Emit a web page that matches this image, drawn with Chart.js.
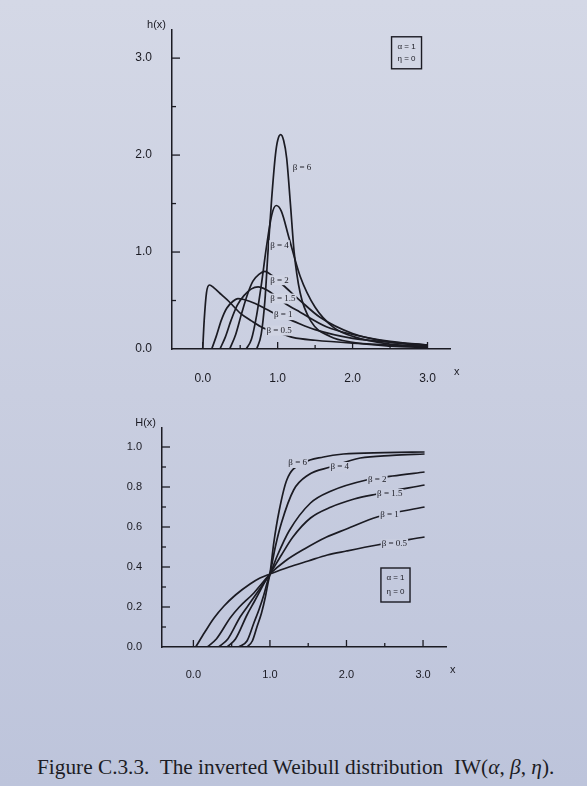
<!DOCTYPE html>
<html lang="en">
<head>
  <meta charset="UTF-8">
  <title>Inverted Weibull distribution</title>
  <script src="https://cdn.jsdelivr.net/npm/chart.js"></script>
  <style>
    html, body {
      margin: 0;
      padding: 0;
    }
    body {
      width: 587px;
      height: 786px;
      position: relative;
      overflow: hidden;
      background: linear-gradient(180deg, #d4d8e6 0%, #c9cee0 50%, #bdc4db 100%);
    }
    .chart-box {
      position: absolute;
      left: 0;
      width: 587px;
    }
    #topBox { top: 0; height: 400px; }
    #bottomBox { top: 400px; height: 300px; }
    .caption {
      position: absolute;
      left: 37px;
      top: 755px;
      font-family: "Liberation Serif", "DejaVu Serif", serif;
      font-size: 21.3px;
      color: #1c1c24;
      white-space: nowrap;
    }
    .caption i { font-style: italic; }
  </style>
</head>
<body>
  <div class="chart-box" id="topBox"><canvas id="hChart" width="587" height="400"></canvas></div>
  <div class="chart-box" id="bottomBox"><canvas id="HChart" width="587" height="300"></canvas></div>
  <div class="caption">Figure C.3.3.&nbsp; The inverted Weibull distribution &nbsp;IW(<i>α</i>, <i>β</i>, <i>η</i>).</div>

  <script>
    // beta values of the six curves
    const betaNames = ['0.5', '1', '1.5', '2', '4', '6'];

    // h(x) curves (top panel)
    const hx05 = [0.0, 0.02, 0.05, 0.09, 0.15, 0.25, 0.35, 0.5, 0.65, 0.8, 1.0, 1.2, 1.5, 2.0, 2.5, 3.0];
    const hy05 = [0, 0.30, 0.58, 0.66, 0.63, 0.56, 0.49, 0.37, 0.29, 0.22, 0.17, 0.12, 0.09, 0.06, 0.04, 0.03];
    const hx1 = [0.12, 0.18, 0.25, 0.32, 0.4, 0.47, 0.55, 0.7, 0.85, 1.0, 1.2, 1.5, 2.0, 2.5, 3.0];
    const hy1 = [0, 0.13, 0.30, 0.42, 0.49, 0.52, 0.51, 0.47, 0.41, 0.35, 0.29, 0.20, 0.11, 0.07, 0.04];
    const hx15 = [0.23, 0.3, 0.38, 0.46, 0.55, 0.65, 0.74, 0.85, 1.0, 1.1, 1.3, 1.65, 2.0, 2.5, 3.0];
    const hy15 = [0, 0.12, 0.30, 0.45, 0.55, 0.62, 0.64, 0.61, 0.53, 0.47, 0.38, 0.23, 0.15, 0.08, 0.04];
    const hx2 = [0.36, 0.44, 0.52, 0.6, 0.67, 0.75, 0.83, 0.92, 1.07, 1.3, 1.56, 2.0, 2.5, 3.0];
    const hy2 = [0, 0.15, 0.37, 0.57, 0.70, 0.77, 0.80, 0.76, 0.66, 0.50, 0.33, 0.16, 0.07, 0.035];
    const hx4 = [0.58, 0.65, 0.72, 0.78, 0.85, 0.92, 0.98, 1.05, 1.15, 1.3, 1.5, 1.75, 2.0, 2.5, 3.0];
    const hy4 = [0, 0.10, 0.35, 0.65, 1.05, 1.38, 1.48, 1.42, 1.15, 0.75, 0.43, 0.22, 0.13, 0.05, 0.02];
    const hx6 = [0.72, 0.78, 0.83, 0.87, 0.92, 0.97, 1.0, 1.04, 1.08, 1.12, 1.17, 1.22, 1.3, 1.45, 1.7, 2.0, 2.5, 3.0];
    const hy6 = [0, 0.15, 0.5, 0.99, 1.55, 2.0, 2.15, 2.21, 2.15, 1.97, 1.5, 1.0, 0.58, 0.28, 0.13, 0.07, 0.03, 0.015];

    // H(x) curves (bottom panel)
    const Hx05 = [0.03, 0.15, 0.27, 0.4, 0.55, 0.74, 0.87, 1.0, 1.25, 1.5, 1.75, 2.0, 2.4, 3.02];
    const Hy05 = [0, 0.075, 0.145, 0.205, 0.26, 0.315, 0.345, 0.365, 0.40, 0.43, 0.46, 0.48, 0.51, 0.55];
    const Hx1 = [0.18, 0.3, 0.48, 0.6, 0.79, 0.9, 1.0, 1.2, 1.45, 1.74, 2.0, 2.4, 3.02];
    const Hy1 = [0, 0.04, 0.145, 0.20, 0.27, 0.32, 0.365, 0.43, 0.49, 0.55, 0.59, 0.65, 0.70];
    const Hx15 = [0.33, 0.45, 0.61, 0.72, 0.83, 0.92, 1.0, 1.15, 1.3, 1.53, 1.8, 2.1, 2.4, 3.02];
    const Hy15 = [0, 0.04, 0.15, 0.21, 0.27, 0.32, 0.365, 0.46, 0.55, 0.645, 0.70, 0.74, 0.765, 0.81];
    const Hx2 = [0.44, 0.55, 0.7, 0.8, 0.87, 0.94, 1.0, 1.1, 1.25, 1.53, 1.8, 2.26, 2.6, 3.02];
    const Hy2 = [0, 0.04, 0.16, 0.23, 0.28, 0.33, 0.365, 0.46, 0.58, 0.72, 0.78, 0.835, 0.855, 0.875];
    const Hx4 = [0.59, 0.7, 0.79, 0.86, 0.92, 0.97, 1.0, 1.07, 1.15, 1.31, 1.5, 1.79, 2.18, 2.6, 3.02];
    const Hy4 = [0, 0.03, 0.12, 0.19, 0.26, 0.33, 0.365, 0.50, 0.62, 0.785, 0.86, 0.90, 0.945, 0.958, 0.965];
    const Hx6 = [0.70, 0.77, 0.83, 0.89, 0.94, 0.98, 1.0, 1.05, 1.12, 1.22, 1.44, 1.7, 1.96, 2.5, 3.02];
    const Hy6 = [0, 0.03, 0.10, 0.17, 0.25, 0.33, 0.365, 0.52, 0.68, 0.835, 0.92, 0.95, 0.965, 0.972, 0.975];

    // where the beta labels sit on each curve (data coords)
    const hLabelX = [0.85, 0.95, 0.9, 0.9, 0.9, 1.2];
    const hLabelY = [0.19, 0.35, 0.52, 0.71, 1.07, 1.87];
    const HLabelX = [2.46, 2.44, 2.4, 2.28, 1.79, 1.24];
    const HLabelY = [0.515, 0.66, 0.765, 0.835, 0.90, 0.92];

    const ink = '#1b1b23';

    function toPoints(xs, ys) {
      return xs.map((x, i) => ({ x: x, y: ys[i] }));
    }

    function makeDatasets(pairs) {
      return pairs.map((p, i) => ({
        label: 'β = ' + betaNames[i],
        data: toPoints(p[0], p[1]),
        borderColor: ink,
        borderWidth: 1.7,
        pointRadius: 0,
        fill: false,
        cubicInterpolationMode: 'monotone'
      }));
    }

    // draws inward tick marks, axis names, beta labels and the parameter box
    const decorPlugin = {
      id: 'decor',
      afterDatasetsDraw(chart, args, opts) {
        const ctx = chart.ctx;
        const xs = chart.scales.x, ys = chart.scales.y;
        const area = chart.chartArea;
        ctx.save();
        ctx.strokeStyle = ink;
        ctx.lineWidth = 1.3;

        // tick marks pointing into the plot
        xs.ticks.forEach(t => {
          const px = xs.getPixelForValue(t.value);
          const len = t.label ? 7 : 4;
          ctx.beginPath();
          ctx.moveTo(px, area.bottom);
          ctx.lineTo(px, area.bottom - len);
          ctx.stroke();
        });
        ys.ticks.forEach(t => {
          if (t.value === 0) return;
          const py = ys.getPixelForValue(t.value);
          const len = t.label ? 8 : 4;
          ctx.beginPath();
          ctx.moveTo(area.left, py);
          ctx.lineTo(area.left + len, py);
          ctx.stroke();
        });

        // beta labels, drawn over the curves
        ctx.font = '9px "Liberation Serif", serif';
        ctx.textBaseline = 'middle';
        ctx.textAlign = 'left';
        opts.labelX.forEach((lx, i) => {
          const px = xs.getPixelForValue(lx);
          const py = ys.getPixelForValue(opts.labelY[i]);
          const txt = 'β = ' + betaNames[i];
          const w = ctx.measureText(txt).width;
          ctx.fillStyle = opts.paper;
          ctx.fillRect(px - 1, py - 5, w + 2, 10);
          ctx.fillStyle = ink;
          ctx.fillText(txt, px, py);
        });

        // parameter box
        const bx0 = xs.getPixelForValue(opts.box[0]);
        const bx1 = xs.getPixelForValue(opts.box[1]);
        const by0 = ys.getPixelForValue(opts.box[2]);
        const by1 = ys.getPixelForValue(opts.box[3]);
        ctx.lineWidth = 1.4;
        ctx.strokeRect(bx0, by0, bx1 - bx0, by1 - by0);
        ctx.fillStyle = ink;
        ctx.font = '8px "Liberation Sans", sans-serif';
        ctx.textAlign = 'center';
        const cx = (bx0 + bx1) / 2;
        ctx.fillText('α = 1', cx, by0 + (by1 - by0) * 0.3);
        ctx.fillText('η = 0', cx, by0 + (by1 - by0) * 0.7);

        // axis names
        ctx.font = '11px "Liberation Sans", sans-serif';
        ctx.textAlign = 'right';
        ctx.textBaseline = 'alphabetic';
        ctx.fillText(opts.yName, area.left - 6, area.top - 2);
        ctx.textAlign = 'left';
        ctx.fillText('x', area.right + 4, area.bottom + 26);
        ctx.restore();
      }
    };

    function axisOptions(cfg) {
      return {
        x: {
          type: 'linear',
          min: -0.41,
          max: 3.3,
          grid: { display: false },
          border: { color: ink, width: 1.5 },
          afterFit: s => { s.height = cfg.xHeight; },
          ticks: {
            stepSize: 0.5,
            includeBounds: false,
            autoSkip: false,
            maxRotation: 0,
            padding: cfg.xPad,
            color: ink,
            font: { family: '"Liberation Sans", Arial, sans-serif', size: cfg.fontSize },
            callback: v => Number.isInteger(v) ? v.toFixed(1) : ''
          }
        },
        y: {
          type: 'linear',
          min: 0,
          max: cfg.yMax,
          grid: { display: false },
          border: { color: ink, width: 1.5 },
          afterFit: s => { s.width = cfg.yWidth; },
          ticks: {
            stepSize: cfg.yStep,
            includeBounds: false,
            autoSkip: false,
            padding: 12,
            color: ink,
            font: { family: '"Liberation Sans", Arial, sans-serif', size: cfg.fontSize },
            callback: v => {
              const k = v / cfg.yMajor;
              return Math.abs(k - Math.round(k)) < 1e-6 ? v.toFixed(1) : '';
            }
          }
        }
      };
    }

    // top panel: h(x)
    new Chart(document.getElementById('hChart').getContext('2d'), {
      type: 'line',
      data: {
        datasets: makeDatasets([[hx05, hy05], [hx1, hy1], [hx15, hy15], [hx2, hy2], [hx4, hy4], [hx6, hy6]])
      },
      options: {
        responsive: false,
        animation: false,
        layout: { padding: { top: 30, right: 137, left: 0, bottom: 0 } },
        plugins: {
          legend: { display: false },
          tooltip: { enabled: false },
          decor: {
            labelX: hLabelX, labelY: hLabelY,
            box: [2.52, 2.92, 3.22, 2.89],
            yName: 'h(x)',
            paper: '#d0d4e3'
          }
        },
        scales: axisOptions({ xHeight: 51, xPad: 14, yWidth: 172, yMax: 3.29, yStep: 0.5, yMajor: 1, fontSize: 12 })
      },
      plugins: [decorPlugin]
    });

    // bottom panel: H(x)
    new Chart(document.getElementById('HChart').getContext('2d'), {
      type: 'line',
      data: {
        datasets: makeDatasets([[Hx05, Hy05], [Hx1, Hy1], [Hx15, Hy15], [Hx2, Hy2], [Hx4, Hy4], [Hx6, Hy6]])
      },
      options: {
        responsive: false,
        animation: false,
        layout: { padding: { top: 28, right: 141, left: 0, bottom: 0 } },
        plugins: {
          legend: { display: false },
          tooltip: { enabled: false },
          decor: {
            labelX: HLabelX, labelY: HLabelY,
            box: [2.45, 2.83, 0.395, 0.225],
            yName: 'H(x)',
            paper: '#c8cddf'
          }
        },
        scales: axisOptions({ xHeight: 53, xPad: 13, yWidth: 162, yMax: 1.095, yStep: 0.1, yMajor: 0.2, fontSize: 11 })
      },
      plugins: [decorPlugin]
    });
  </script>
</body>
</html>
